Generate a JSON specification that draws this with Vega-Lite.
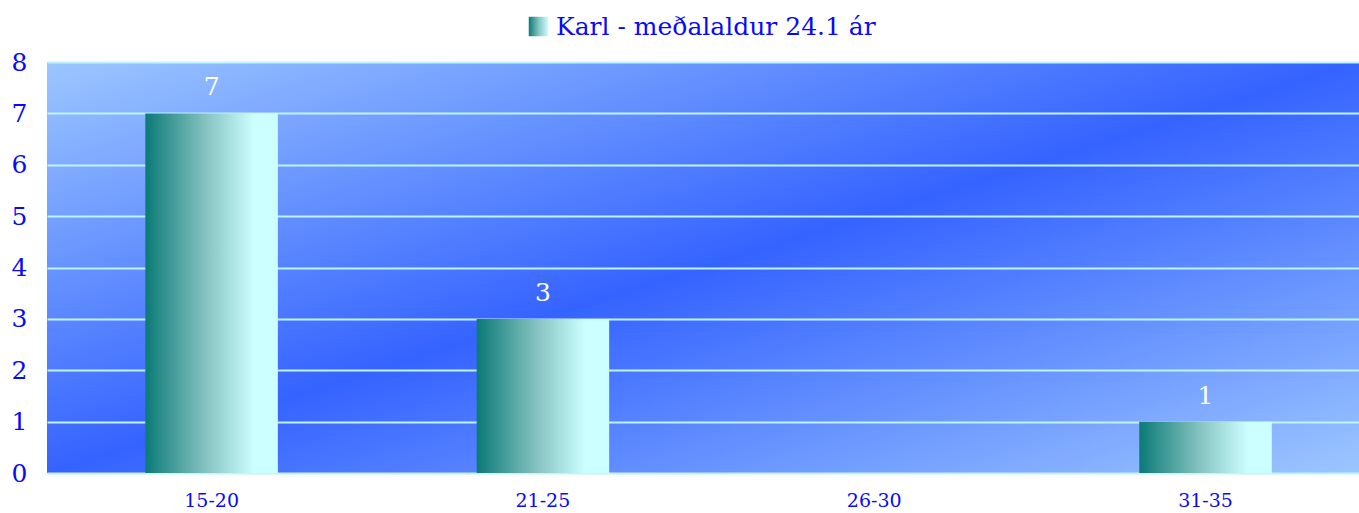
{
  "$schema": "https://vega.github.io/schema/vega-lite/v6.json",
  "width": 1312,
  "height": 411,
  "autosize": {"type": "none"},
  "padding": {"left": 47, "top": 62, "right": 0, "bottom": 40},
  "background": "white",
  "config": {
    "view": {
      "stroke": null,
      "fill": {
        "gradient": "linear",
        "x1": 0, "y1": 0, "x2": 1, "y2": 1,
        "stops": [
          {"offset": 0, "color": "#9cc6ff"},
          {"offset": 0.5, "color": "#3563ff"},
          {"offset": 1, "color": "#9cc6ff"}
        ]
      }
    },
    "font": "DejaVu Serif"
  },
  "data": {
    "values": [
      {"age": "15-20", "count": 7, "series": "Karl - meðalaldur 24.1 ár"},
      {"age": "21-25", "count": 3, "series": "Karl - meðalaldur 24.1 ár"},
      {"age": "26-30", "count": 0, "series": "Karl - meðalaldur 24.1 ár"},
      {"age": "31-35", "count": 1, "series": "Karl - meðalaldur 24.1 ár"}
    ]
  },
  "encoding": {
    "x": {
      "field": "age",
      "type": "nominal",
      "sort": null,
      "scale": {"paddingInner": 0.6, "paddingOuter": 0.28, "align": 0.53},
      "axis": {
        "title": null,
        "labelAngle": 0,
        "labelFont": "DejaVu Serif",
        "labelFontSize": 19,
        "labelColor": "#0a0af5",
        "labelPadding": 18,
        "ticks": false,
        "domain": false,
        "grid": false
      }
    },
    "y": {
      "field": "count",
      "type": "quantitative",
      "scale": {"domain": [0, 8], "nice": false},
      "axis": {
        "title": null,
        "values": [0, 1, 2, 3, 4, 5, 6, 7, 8],
        "labelFont": "DejaVu Serif",
        "labelFontSize": 25,
        "labelColor": "#0a0af5",
        "labelPadding": 20,
        "ticks": false,
        "domain": false,
        "grid": true,
        "gridColor": "#bff4ff",
        "gridWidth": 2,
        "gridOpacity": 1
      }
    }
  },
  "layer": [
    {
      "mark": {
        "type": "bar",
        "fill": {
          "gradient": "linear",
          "x1": 0, "y1": 0, "x2": 1, "y2": 0,
          "stops": [
            {"offset": 0, "color": "#0b7a76"},
            {"offset": 0.45, "color": "#84c2c0"},
            {"offset": 0.82, "color": "#ccffff"},
            {"offset": 1, "color": "#ccffff"}
          ]
        }
      }
    },
    {
      "mark": {
        "type": "point",
        "size": 0,
        "filled": true,
        "fill": {
          "gradient": "linear",
          "x1": 0, "y1": 0, "x2": 1, "y2": 0,
          "stops": [
            {"offset": 0, "color": "#0b7a76"},
            {"offset": 0.5, "color": "#84c2c0"},
            {"offset": 1, "color": "#ccffff"}
          ]
        }
      },
      "encoding": {
        "shape": {
          "field": "series",
          "type": "nominal",
          "scale": {"range": ["square"]},
          "legend": {
            "title": null,
            "orient": "none",
            "legendX": 479,
            "legendY": -48,
            "symbolSize": 380,
            "symbolOpacity": 1,
            "symbolStrokeWidth": 0,
            "labelFont": "DejaVu Serif",
            "labelFontSize": 25,
            "labelColor": "#0a0af5",
            "labelLimit": 600,
            "labelOffset": 5
          }
        }
      }
    },
    {
      "transform": [{"filter": "datum.count > 0"}],
      "mark": {
        "type": "text",
        "color": "white",
        "font": "DejaVu Serif",
        "fontSize": 25,
        "baseline": "alphabetic",
        "dy": -18
      },
      "encoding": {
        "text": {"field": "count", "type": "quantitative"}
      }
    }
  ]
}
